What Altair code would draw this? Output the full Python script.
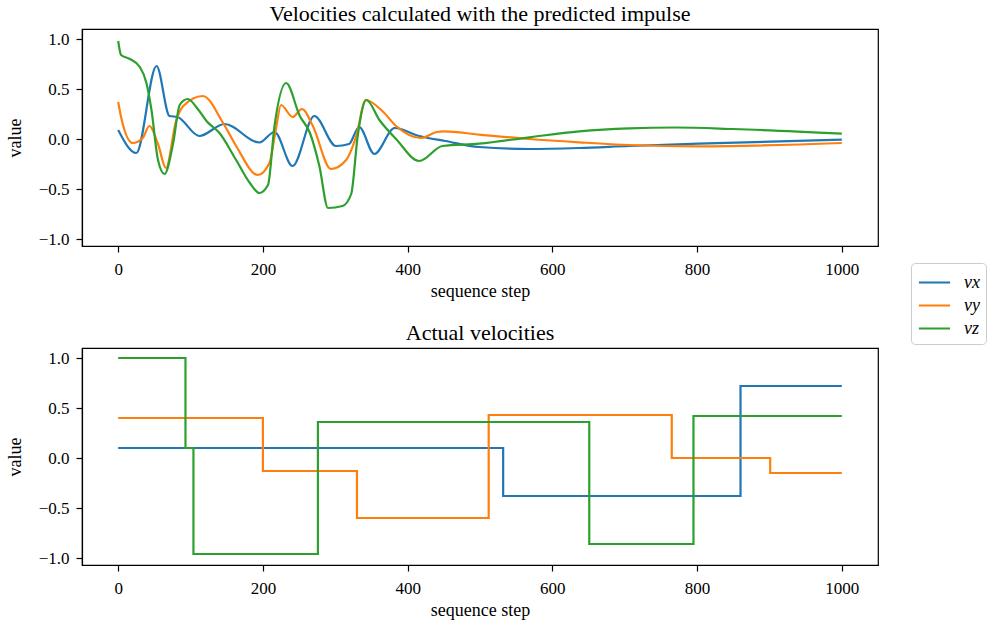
import altair as alt
import pandas as pd

series = ["vx", "vy", "vz"]
colors = ["#1f77b4", "#ff7f0e", "#2ca02c"]

# --- predicted velocities (top panel) ---
pred_vx_step = [0, 25, 53, 71, 82, 112, 147, 195, 216, 241, 271, 301, 319, 333, 354, 382, 416, 452, 499, 568, 637, 706, 802, 1000]
pred_vx_val = [0.09, -0.14, 0.73, 0.23, 0.22, 0.03, 0.15, -0.035, 0.07, -0.27, 0.23, -0.07, -0.05, 0.12, -0.15, 0.11, 0.03, -0.02, -0.08, -0.10, -0.09, -0.07, -0.047, -0.006]

pred_vy_step = [0, 4, 20, 34, 43, 55, 66, 80, 90, 117, 145, 163, 193, 209, 218, 225, 241, 254, 269, 294, 315, 329, 342, 365, 384, 418, 440, 450, 499, 568, 637, 706, 802, 1000]
pred_vy_val = [0.37, 0.22, -0.04, 0.01, 0.13, -0.05, -0.29, 0.18, 0.33, 0.43, 0.16, -0.07, -0.36, -0.24, 0.10, 0.34, 0.22, 0.30, 0.13, -0.30, -0.21, 0.03, 0.39, 0.28, 0.13, 0.01, 0.07, 0.077, 0.044, 0.0, -0.033, -0.06, -0.073, -0.04]

pred_vz_step = [0, 4, 16, 30, 39, 46, 55, 64, 76, 85, 96, 110, 122, 140, 163, 182, 195, 207, 216, 232, 251, 265, 278, 290, 310, 322, 331, 343, 361, 384, 416, 448, 499, 568, 637, 706, 770, 850, 1000]
pred_vz_val = [0.98, 0.84, 0.80, 0.72, 0.56, 0.29, -0.21, -0.35, -0.04, 0.34, 0.40, 0.30, 0.18, 0.06, -0.21, -0.44, -0.54, -0.46, 0.13, 0.56, 0.23, 0.06, -0.27, -0.69, -0.67, -0.55, 0.03, 0.39, 0.19, 0.0, -0.22, -0.07, -0.047, 0.017, 0.077, 0.107, 0.115, 0.10, 0.054]

# --- actual velocities (bottom panel): piecewise constant, value holds from each step on ---
act_vx_step = [0, 532, 860, 1000]
act_vx_val = [0.10, -0.38, 0.72, 0.72]
act_vy_step = [0, 200, 330, 512, 765, 901, 1000]
act_vy_val = [0.40, -0.13, -0.60, 0.43, 0.0, -0.15, -0.15]
act_vz_step = [0, 93, 104, 276, 651, 795, 1000]
act_vz_val = [1.0, 0.10, -0.96, 0.36, -0.86, 0.42, 0.42]

x_ticks = [0, 200, 400, 600, 800, 1000]
y_ticks = [-1.0, -0.5, 0.0, 0.5, 1.0]


def build(pairs):
    rows = []
    for name, steps, vals in pairs:
        for s, v in zip(steps, vals):
            rows.append({"step": s, "value": v, "series": name})
    return pd.DataFrame(rows)


pred_df = build([("vx", pred_vx_step, pred_vx_val),
                 ("vy", pred_vy_step, pred_vy_val),
                 ("vz", pred_vz_step, pred_vz_val)])
act_df = build([("vx", act_vx_step, act_vx_val),
                ("vy", act_vy_step, act_vy_val),
                ("vz", act_vz_step, act_vz_val)])

W, H = 796, 217
x_enc = alt.X("step:Q", title="sequence step",
              scale=alt.Scale(domain=[-50, 1050], nice=False, zero=False),
              axis=alt.Axis(values=x_ticks, format="d"))
y_enc = alt.Y("value:Q", title="value",
              scale=alt.Scale(domain=[-1.07, 1.10], nice=False, zero=False),
              axis=alt.Axis(values=y_ticks, format=".1f"))
color_enc = alt.Color("series:N", title=None,
                      scale=alt.Scale(domain=series, range=colors),
                      legend=alt.Legend(orient="none", legendX=829, legendY=234))

top = alt.Chart(pred_df, title="Velocities calculated with the predicted impulse").mark_line(
    interpolate="monotone", strokeWidth=2.2
).encode(x=x_enc, y=y_enc, color=color_enc, order="step:Q").properties(width=W, height=H)

bottom = alt.Chart(act_df, title="Actual velocities").mark_line(
    interpolate="step-after", strokeWidth=2.2
).encode(x=x_enc, y=y_enc, color=color_enc, order="step:Q").properties(width=W, height=H)

font = "Liberation Serif"
chart = alt.vconcat(top, bottom, spacing=20).properties(
    padding={"left": 5, "top": 2, "right": 2, "bottom": 1}
).configure_view(
    stroke="#000000", strokeWidth=1.2
).configure_axis(
    grid=False, labelFont=font, titleFont=font, labelFontSize=17, titleFontSize=18,
    titleFontWeight="normal", labelColor="#000000", titleColor="#000000",
    domainColor="#000000", tickColor="#000000", tickSize=6,
    domainWidth=1.2, tickWidth=1.2
).configure_axisX(
    labelPadding=9, titlePadding=5
).configure_axisY(
    labelPadding=7, titlePadding=14
).configure_title(
    font=font, fontSize=22, fontWeight="normal", color="#000000", anchor="middle", offset=3
).configure_legend(
    labelFont=font, labelFontSize=18, labelFontStyle="italic", labelColor="#000000",
    strokeColor="#cccccc", cornerRadius=4, padding=6, fillColor="#ffffff",
    symbolType="M-1.3,0L1.3,0", symbolStrokeWidth=2.2, symbolSize=576,
    symbolOffset=4, labelOffset=16, rowPadding=0
)

chart.save("out.html", embed_options={"renderer": "svg", "actions": False})
